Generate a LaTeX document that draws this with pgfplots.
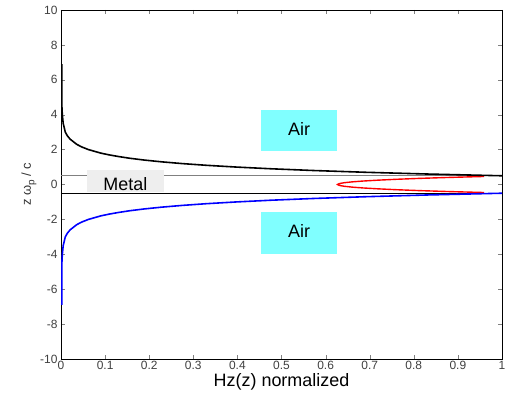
\documentclass[border=0pt]{standalone}
\usepackage{fontspec}
\setmainfont{Liberation Sans}
\usepackage{pgfplots}
\pgfplotsset{compat=1.18}
\definecolor{aircyan}{RGB}{128,255,255}
\definecolor{metalgray}{RGB}{238,238,238}

\begin{document}
\begin{tikzpicture}
\begin{axis}[
    scale only axis,
    width=441bp, height=349bp,
    xmin=0, xmax=1,
    ymin=-10, ymax=10,
    xtick={0,0.1,0.2,0.3,0.4,0.5,0.6,0.7,0.8,0.9,1},
    ytick={-10,-8,-6,-4,-2,0,2,4,6,8,10},
    tick align=inside,
    major tick length=4bp,
    xtick pos=both, ytick pos=both,
    axis line style={black, line width=0.6pt},
    /pgf/number format/assume math mode=true,
    tick label style={font=\fontsize{12}{13}\selectfont, text=black!75},
    xticklabel style={yshift=1bp},
    xlabel={Hz(z) normalized},
    xlabel style={font=\fontsize{18}{20}\selectfont, yshift=3bp},
    ylabel={z ω\raisebox{-0.5ex}{\fontsize{10}{11}\selectfont p} / c},
    ylabel style={font=\fontsize{13}{14}\selectfont, text=black!80, yshift=-3bp},
    clip=true,
]
% interface lines
\addplot[gray, line width=0.6pt] coordinates {(0,0.5) (1,0.5)};
\addplot[black, line width=0.6pt] coordinates {(0,-0.5) (1,-0.5)};
% region labels
\fill[metalgray] (axis cs:0.059,0.83) rectangle (axis cs:0.234,-0.43);
\node[font=\fontsize{18}{20}\selectfont] at (axis cs:0.146,0.05) {Metal};
\fill[aircyan] (axis cs:0.454,4.27) rectangle (axis cs:0.625,1.9);
\node[font=\fontsize{18}{20}\selectfont] at (axis cs:0.54,3.2) {Air};
\fill[aircyan] (axis cs:0.454,-1.6) rectangle (axis cs:0.625,-3.98);
\node[font=\fontsize{18}{20}\selectfont] at (axis cs:0.54,-2.65) {Air};
% field inside metal
\addplot[red, line width=1.4pt] coordinates {
  (0.9596,0.46) (0.8735,0.40) (0.8126,0.35) (0.7619,0.30) (0.7199,0.25)
  (0.6859,0.20) (0.6599,0.15) (0.6416,0.10) (0.6306,0.05) (0.627,0)
  (0.6306,-0.05) (0.6416,-0.10) (0.6599,-0.15) (0.6859,-0.20) (0.7199,-0.25)
  (0.7619,-0.30) (0.8126,-0.35) (0.8735,-0.40) (0.9596,-0.46)
};
% field in upper air
\addplot[black, line width=1.6pt] coordinates {
  (0.002,6.9) (0.002,4.5) (0.003,4.0) (0.005,3.5) (0.0098,3.0) (0.0142,2.8)
  (0.0206,2.6) (0.0358,2.3) (0.0472,2.15) (0.0623,2.0) (0.090,1.8)
  (0.1086,1.7) (0.131,1.6) (0.157,1.5) (0.189,1.4) (0.2276,1.3)
  (0.274,1.2) (0.3296,1.1) (0.397,1.0) (0.477,0.9) (0.574,0.8)
  (0.691,0.7) (0.831,0.6) (1,0.5)
};
% field in lower air
\addplot[blue, line width=1.6pt] coordinates {
  (0.002,-6.9) (0.002,-4.5) (0.003,-4.0) (0.005,-3.5) (0.0098,-3.0) (0.0142,-2.8)
  (0.0206,-2.6) (0.0358,-2.3) (0.0472,-2.15) (0.0623,-2.0) (0.090,-1.8)
  (0.1086,-1.7) (0.131,-1.6) (0.157,-1.5) (0.189,-1.4) (0.2276,-1.3)
  (0.274,-1.2) (0.3296,-1.1) (0.397,-1.0) (0.477,-0.9) (0.574,-0.8)
  (0.691,-0.7) (0.831,-0.6) (1,-0.5)
};
\end{axis}
\pgfresetboundingbox
\path[use as bounding box] (current axis.south west) ++(-61bp,-49bp) rectangle ++(506bp,408bp);
\end{tikzpicture}
\end{document}
